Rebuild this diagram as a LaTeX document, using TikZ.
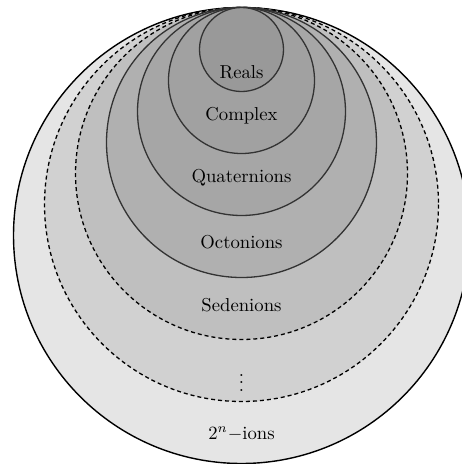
\documentclass[tikz,border=0pt]{standalone}
\begin{document}
\begin{tikzpicture}[x=1pt,y=-1pt,
  ring/.style={line width=1.3pt, draw=black!80},
  dring/.style={line width=1.3pt, draw=black, dash pattern=on 4pt off 3pt},
  lbl/.style={scale=1.87, transform shape, inner sep=0pt}]
\useasboundingbox (0,0) rectangle (462,464);
\clip (0,0) rectangle (462,464);
\path[fill=white] (0,0) rectangle (462,464);
\def\cx{241.5}
\def\ty{7.5}
\draw[line width=1.4pt, draw=black, fill=black!10] (\cx,\ty+228) circle (228);
\draw[dring, fill=black!18] (\cx,\ty+197) circle (197);
\draw[dring, fill=black!25] (\cx,\ty+166) circle (166);
\draw[ring, fill=black!31] (\cx,\ty+135) circle (135);
\draw[ring, fill=black!35] (\cx,\ty+104) circle (104);
\draw[ring, fill=black!37] (\cx,\ty+73) circle (73);
\draw[ring, fill=black!40] (\cx,\ty+42) circle (42);
\node[lbl] (reals) at (\cx,72) {Reals};
\node[lbl] (complex) at (\cx,116) {Complex};
\node[lbl] (quat) at (\cx,178) {Quaternions};
\node[lbl] (oct) at (\cx,242) {Octonions};
\node[lbl] (sed) at (\cx,305) {Sedenions};
\node[lbl] (dots) at (\cx,377) {$\vdots$};
\node[lbl] (ions) at (\cx,434) {$2^n{-}$ions};
\end{tikzpicture}
\end{document}
